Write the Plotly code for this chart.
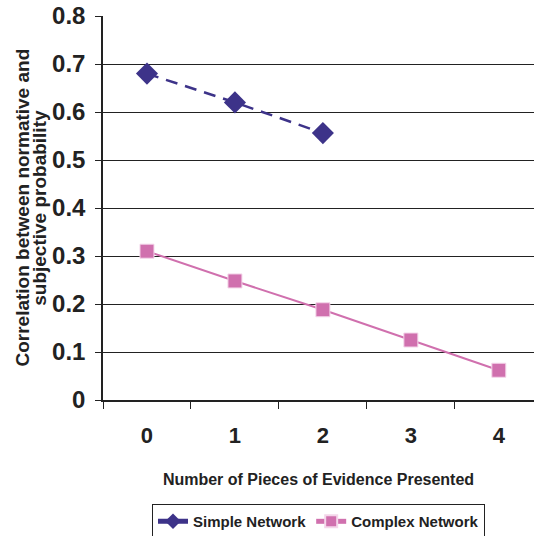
import plotly.graph_objects as go

pieces = ["0", "1", "2", "3", "4"]
simple_network = [0.68, 0.62, 0.556]
complex_network = [0.31, 0.248, 0.188, 0.125, 0.062]
y_title_lines = ["Correlation between normative and", "subjective probability"]

font = "Liberation Sans, Arial, sans-serif"

fig = go.Figure()
fig.add_trace(go.Scatter(
    x=pieces[:len(simple_network)], y=simple_network, name="Simple Network",
    mode="lines+markers",
    line=dict(color="#3D3389", width=2.5, dash="12px,8px"),
    marker=dict(symbol="diamond", size=17, color="#3D3389"),
))
fig.add_trace(go.Scatter(
    x=pieces, y=complex_network, name="Complex Network",
    mode="lines+markers",
    line=dict(color="#D070AE", width=2),
    marker=dict(symbol="square", size=14, color="#D070AE",
                line=dict(color="#F4D6EA", width=1)),
))

fig.update_layout(
    width=534, height=536,
    margin=dict(l=103, r=0, t=16, b=136, autoexpand=False),
    paper_bgcolor="white", plot_bgcolor="white",
    font=dict(family=font, color="#222222"),
    showlegend=True,
    legend=dict(
        orientation="h", x=0.5, xanchor="center", y=-0.271, yanchor="top",
        bordercolor="#222222", borderwidth=1,
        font=dict(size=15, family=font, weight="bold"),
        itemsizing="constant", tracegroupgap=0,
    ),
)

# y title as two rotated lines, tighter line spacing than a <br> title
for xpos, line in zip([-0.189, -0.149], y_title_lines):
    fig.add_annotation(
        text=line, xref="paper", yref="paper", x=xpos, y=0.5,
        xanchor="center", yanchor="middle", textangle=-90, showarrow=False,
        font=dict(size=19, family=font, weight="bold", color="#222222"),
    )

fig.update_xaxes(
    type="category", range=[-0.5, 4.4], automargin=False,
    showgrid=False, showline=True, linecolor="#222222", linewidth=1.5,
    ticks="outside", tickson="boundaries", ticklen=7, tickcolor="#222222",
    ticklabelstandoff=15,
    tickfont=dict(size=22, family=font, weight="bold"),
    title=dict(text="Number of Pieces of Evidence Presented", standoff=27,
               font=dict(size=16, family=font, weight="bold")),
)
fig.update_yaxes(
    range=[0, 0.8], dtick=0.1, tickformat=".1~f", automargin=False,
    showgrid=True, gridcolor="#222222", gridwidth=1.2,
    showline=True, linecolor="#222222", linewidth=1.5,
    ticks="outside", ticklen=6, tickcolor="#222222",
    ticklabelstandoff=5,
    tickfont=dict(size=24, family=font, weight="bold"),
    zeroline=False,
)

# drop the browser's default body margin so the figure sits at 0,0
fig.write_html("out.html", config={"displayModeBar": False},
               post_script="document.body.style.margin = '0';")
